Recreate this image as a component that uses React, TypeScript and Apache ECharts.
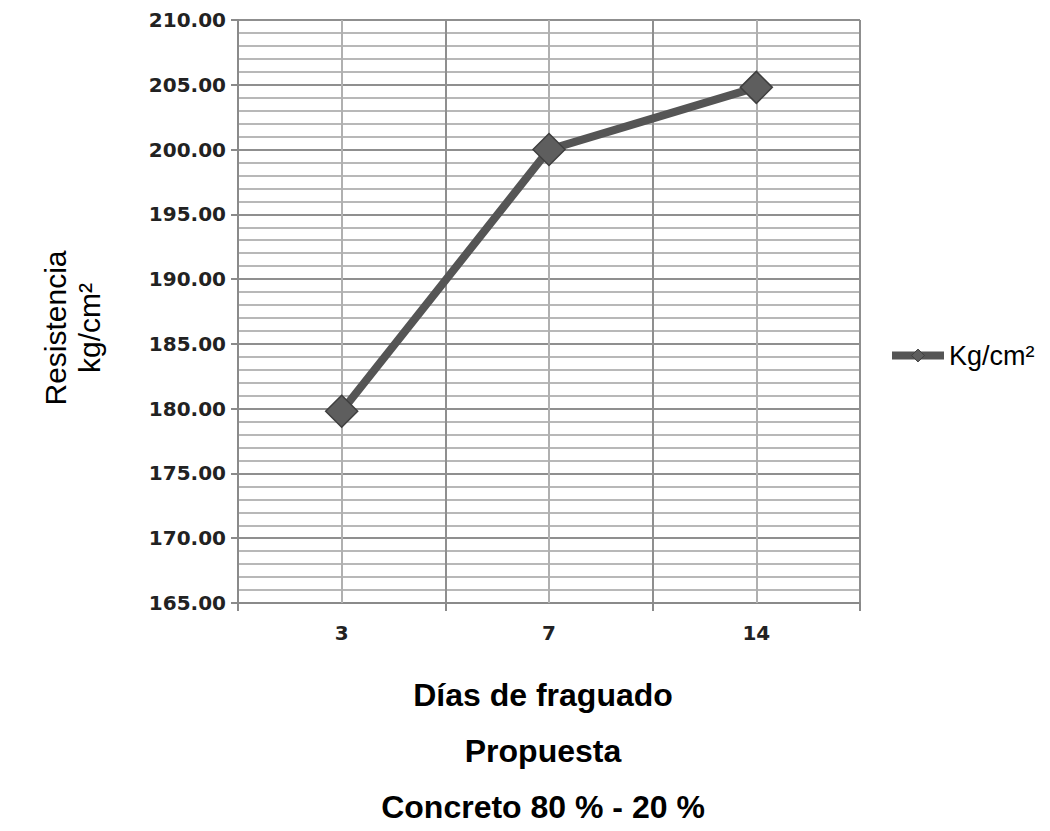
import React, { useEffect, useRef } from "react";
import * as echarts from "echarts";

const categories = ["3", "7", "14"];
const resistencia = [179.8, 200.0, 204.8];
const seriesName = "Kg/cm²";
const yMin = 165;
const yMax = 210;
const yInterval = 5;
const titles = ["Días de fraguado", "Propuesta", "Concreto 80 % - 20 %"];
const yNameLines = ["Resistencia", "kg/cm²"];

export default function App() {
  const ref = useRef<HTMLDivElement>(null);
  useEffect(() => {
    if (!ref.current) return;
    const chart = echarts.init(ref.current, undefined, { renderer: "svg" });
    const font = "'Liberation Sans', Arial, sans-serif";
    chart.setOption({
      animation: false,
      backgroundColor: "#ffffff",
      grid: { left: 238, top: 20, right: 190, bottom: 228, containLabel: false },
      xAxis: {
        type: "category",
        data: categories,
        boundaryGap: true,
        axisLine: { show: true, lineStyle: { color: "#8a8a8a", width: 2 } },
        axisTick: { show: true, length: 8, lineStyle: { color: "#8a8a8a", width: 2 } },
        axisLabel: {
          margin: 20,
          color: "#222",
          fontFamily: "'DejaVu Sans', sans-serif",
          fontWeight: "bold",
          fontSize: 20,
        },
        splitLine: { show: true, lineStyle: { color: "#8f8f8f", width: 2 } },
      },
      yAxis: {
        type: "value",
        min: yMin,
        max: yMax,
        interval: yInterval,
        axisLine: { show: true, lineStyle: { color: "#8a8a8a", width: 2 } },
        axisTick: { show: true, length: 7, lineStyle: { color: "#8a8a8a", width: 2 } },
        axisLabel: {
          margin: 12,
          color: "#222",
          fontFamily: "'DejaVu Sans', sans-serif",
          fontWeight: "bold",
          fontSize: 20,
          formatter: (v: number) => v.toFixed(2),
        },
        splitLine: { show: true, lineStyle: { color: "#8f8f8f", width: 2 } },
        minorTick: { show: false, splitNumber: 5 },
        minorSplitLine: { show: true, lineStyle: { color: "#b8b8b8", width: 2 } },
      },
      legend: {
        left: 883,
        top: 337,
        orient: "vertical",
        itemWidth: 52,
        itemHeight: 16,
        itemGap: 4,
        textStyle: { fontFamily: font, fontSize: 27, color: "#000" },
        data: [
          {
            name: seriesName,
            lineStyle: { color: "#555555", width: 8 },
            itemStyle: { color: "#5e5e5e", borderColor: "#3f3f3f", borderWidth: 1 },
          },
        ],
      },
      title: titles.map((t, i) => ({
        text: t,
        left: 538,
        top: 674 + i * 56,
        textAlign: "center",
        textStyle: { fontFamily: font, fontWeight: "bold", fontSize: 32, color: "#000" },
      })),
      graphic: yNameLines.map((t, i) => ({
        type: "text",
        x: 55 + i * 34,
        y: 328,
        rotation: Math.PI / 2,
        style: {
          text: t,
          fontFamily: font,
          fontSize: 30,
          fill: "#000",
          textAlign: "center",
          textVerticalAlign: "middle",
        },
      })),
      series: [
        {
          name: seriesName,
          type: "line",
          data: resistencia,
          lineStyle: { color: "#555555", width: 8 },
          itemStyle: { color: "#5e5e5e", borderColor: "#3f3f3f", borderWidth: 1.5 },
          symbol: "diamond",
          symbolSize: [32, 32],
          markLine: {
            silent: true,
            symbol: ["none", "none"],
            label: { show: false },
            lineStyle: { color: "#b0b0b0", width: 2, type: "solid" },
            data: categories.map((c) => ({ xAxis: c })),
            z: 1,
          },
        },
      ],
    });
    return () => chart.dispose();
  }, []);
  return (
    <div
      ref={ref}
      style={{ position: "absolute", left: 0, top: 0, width: 1050, height: 831 }}
    />
  );
}
